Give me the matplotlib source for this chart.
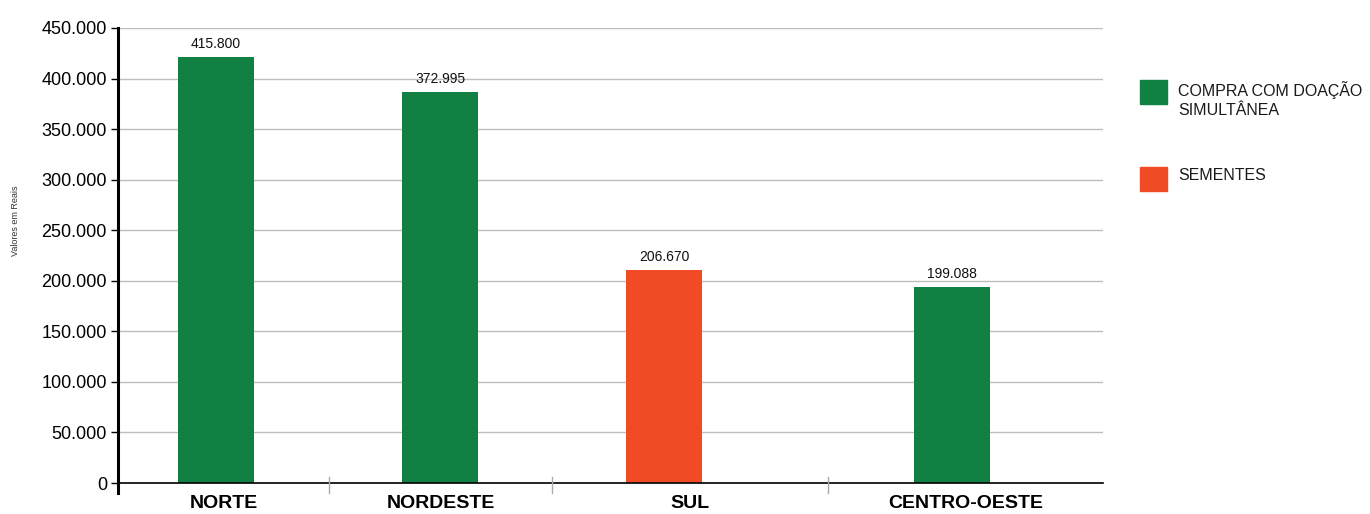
import matplotlib.pyplot as plt
from matplotlib.patches import Rectangle
from matplotlib.lines import Line2D
from matplotlib.ticker import FuncFormatter

# data
regioes = ['NORTE', 'NORDESTE', 'SUL', 'CENTRO-OESTE']
alturas = [421800, 387000, 211000, 194000]      # bar heights as drawn
rotulos = ['415.800', '372.995', '206.670', '199.088']  # printed values
series = ['COMPRA COM DOAÇÃO', 'COMPRA COM DOAÇÃO', 'SEMENTES', 'COMPRA COM DOAÇÃO']
legenda = ['COMPRA COM DOAÇÃO\nSIMULTÂNEA', 'SEMENTES']

cores = {'COMPRA COM DOAÇÃO': '#108142', 'SEMENTES': '#F04B24'}
cores_leg = ['#108142', '#F04B24']

W, H = 1370, 514
# layout (pixels)
ax_l, ax_r, ax_top, ax_bot = 118, 1103, 28, 483
slots = [118, 329, 552, 828, 1103]
bar_x = [216, 440, 664, 952]
bar_w = 76

plt.rcParams['font.family'] = ['Liberation Sans', 'DejaVu Sans']

fig = plt.figure(figsize=(W / 100, H / 100), dpi=100)
ax = fig.add_axes([ax_l / W, 1 - ax_bot / H, (ax_r - ax_l) / W, (ax_bot - ax_top) / H])

cols = [cores[s] for s in series]
ax.bar(bar_x, alturas, width=bar_w, color=cols, zorder=3)
for x, h, t in zip(bar_x, alturas, rotulos):
    ax.annotate(t, (x, h), xytext=(0, 4), textcoords='offset points',
                ha='center', va='bottom', fontsize=10, color='#111111')

ax.set_xlim(ax_l, ax_r)
ax.set_ylim(0, 450000)
ax.set_yticks(range(0, 450001, 50000))
ax.yaxis.set_major_formatter(FuncFormatter(lambda v, p: f'{int(v):,}'.replace(',', '.')))
ax.tick_params(axis='y', labelsize=13, length=5, width=1, pad=3, color='black')
ax.grid(axis='y', color='#bdbdbd', linewidth=1, zorder=0)
ax.set_axisbelow(True)

# category labels centered in slots
ax.set_xticks([(a + b) / 2 for a, b in zip(slots[:-1], slots[1:])])
ax.set_xticklabels(regioes, fontsize=14, fontweight='bold',
                   family=['Liberation Sans Narrow', 'Liberation Sans'])
ax.tick_params(axis='x', length=0, pad=9)

for s in ['top', 'right']:
    ax.spines[s].set_visible(False)
ax.spines['left'].set_linewidth(2.2)
ax.spines['bottom'].set_linewidth(1.2)
ax.spines['bottom'].set_zorder(4)

# left spine extends below zero; separator ticks between categories
ext = 10 / (ax_bot - ax_top)
ax.add_line(Line2D([0, 0], [-ext, 0], transform=ax.transAxes, color='black',
                   linewidth=2.2, clip_on=False))
for sx in slots[1:-1]:
    ax.plot([sx, sx], [-ext, 6 / (ax_bot - ax_top)], color='#aaaaaa', linewidth=1,
            transform=ax.get_xaxis_transform(), clip_on=False, zorder=5)

fig.text(15 / W, 1 - 221 / H, 'Valores em Reais', rotation=90, fontsize=6.5,
         ha='center', va='center', color='#333333')

# legend
leg_y = [80, 167]
for y, lab, c in zip(leg_y, legenda, cores_leg):
    fig.add_artist(Rectangle((1140 / W, 1 - (y + 24) / H), 27 / W, 24 / H,
                             transform=fig.transFigure, color=c))
    fig.text(1178 / W, 1 - (y + 1) / H, lab, fontsize=11.5, ha='left', va='top',
             color='#1a1a1a', linespacing=1.3)

fig.savefig('out.png', dpi=100)
